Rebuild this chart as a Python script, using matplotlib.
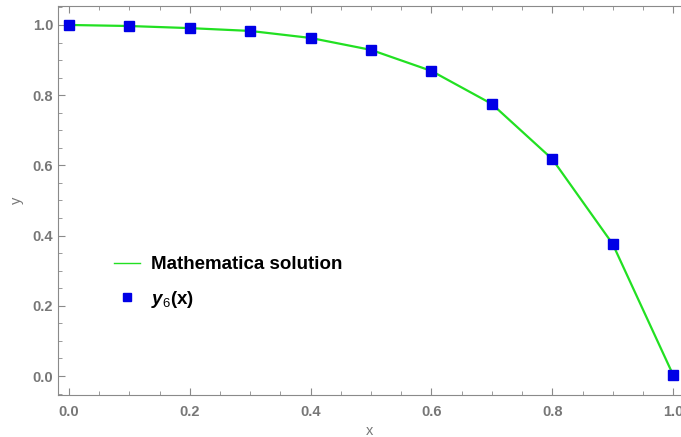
import matplotlib
matplotlib.use('Agg')
import matplotlib.pyplot as plt
from matplotlib.ticker import MultipleLocator

# datos
x_vals = [0.0, 0.1, 0.2, 0.3, 0.4, 0.5, 0.6, 0.7, 0.8, 0.9, 1.0]
y_math = [1.0, 0.997, 0.991, 0.983, 0.963, 0.929, 0.869, 0.775, 0.618, 0.376, 0.003]
y6_vals = [1.0, 0.997, 0.991, 0.983, 0.963, 0.929, 0.869, 0.775, 0.618, 0.376, 0.003]
x_ticks = [0.0, 0.2, 0.4, 0.6, 0.8, 1.0]
y_ticks = [0.0, 0.2, 0.4, 0.6, 0.8, 1.0]

plt.rcParams['font.family'] = ['Liberation Sans', 'DejaVu Sans']
plt.rcParams['mathtext.fontset'] = 'custom'
plt.rcParams['mathtext.rm'] = 'Liberation Sans'
plt.rcParams['mathtext.it'] = 'Liberation Sans:italic'
plt.rcParams['mathtext.bf'] = 'Liberation Sans:bold'
plt.rcParams['mathtext.bfit'] = 'Liberation Sans:bold:italic'

fig = plt.figure(figsize=(6.81, 4.37), dpi=100)
ax = fig.add_axes([58 / 681, 42 / 437, 623 / 681, 389 / 437])

grey = '#8a8a8a'
line, = ax.plot(x_vals, y_math, color='#22e022', lw=1.6, zorder=2)
pts, = ax.plot(x_vals, y6_vals, 's', color='#0000e6', ms=7, lw=0, zorder=3)

ax.set_xlim(-0.018, 1.013)
ax.set_ylim(-0.054, 1.054)
ax.set_xticks(x_ticks)
ax.set_yticks(y_ticks)
ax.xaxis.set_minor_locator(MultipleLocator(0.05))
ax.yaxis.set_minor_locator(MultipleLocator(0.05))
ax.tick_params(which='both', direction='in', color=grey, top=True, right=False,
               labelcolor='#777777', labelsize=10.5)
ax.tick_params(which='major', length=5)
ax.tick_params(which='minor', length=3)
ax.tick_params(axis='x', pad=7)
for lbl in ax.get_xticklabels() + ax.get_yticklabels():
    lbl.set_fontweight('bold')

for s in ['left', 'bottom', 'top']:
    ax.spines[s].set_color(grey)
ax.spines['right'].set_visible(False)

ax.set_xlabel('x', color='#777777', fontsize=10.5, labelpad=4)
ax.set_ylabel('y', color='#777777', fontsize=10.5, labelpad=6)

leg = ax.legend([line, pts], ['Mathematica solution', r'$\mathbfit{y}_{6}\mathbf{(x)}$'],
                loc='lower left', bbox_to_anchor=(0.062, 0.175), frameon=False,
                prop={'weight': 'bold', 'size': 13.5}, handlelength=1.4,
                handletextpad=0.6, labelspacing=0.85, markerscale=0.75)
leg.legend_handles[0].set_linewidth(1.0)

fig.savefig('out.png', dpi=100)
